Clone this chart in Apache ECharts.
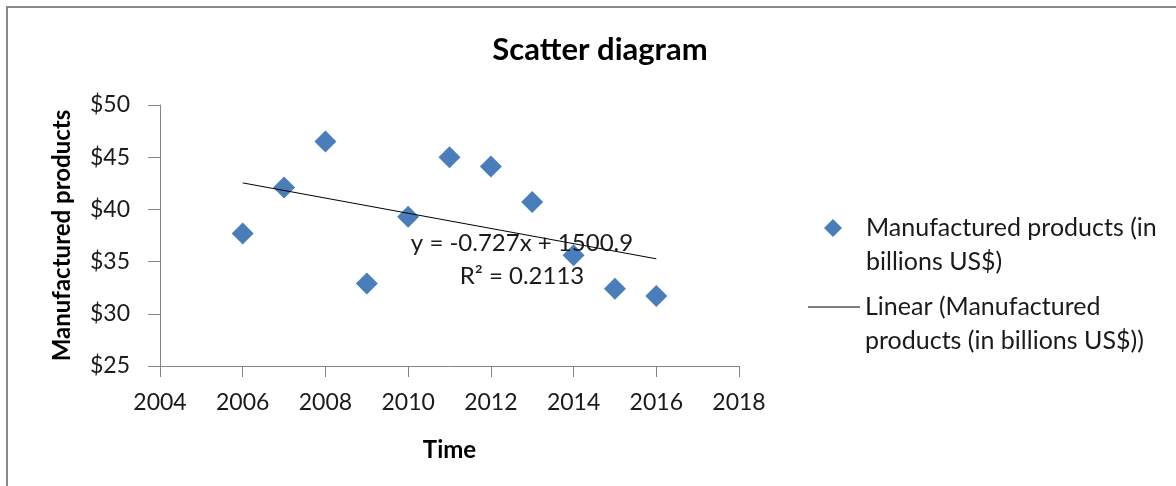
<!DOCTYPE html>
<html>
<head>
<meta charset="utf-8">
<script src="https://cdn.jsdelivr.net/npm/echarts@6/dist/echarts.min.js"></script>
<style>
    html, body { margin: 0; padding: 0; background: #ffffff; }
    #chart { width: 1176px; height: 486px; }
</style>
</head>
<body>
<div id="chart"></div>
<script>
// data
const years = [2006, 2007, 2008, 2009, 2010, 2011, 2012, 2013, 2014, 2015, 2016]
const products = [37.7, 42.1, 46.5, 32.9, 39.3, 45.0, 44.1, 40.7, 35.6, 32.4, 31.7]
// trendline as printed on the chart: y = -0.727x + 1500.9
const trendSlope = -0.727
const trendIntercept = 1500.9
const trendYears = [2006, 2016]
const xTicks = [2004, 2018, 2]
const yTicks = [25, 50, 5]

const scatterName = 'Manufactured products (in billions US$)'
const trendName = 'Linear (Manufactured products (in billions US$))'

const font = 'Lato'
const textColor = '#1a1a1a'
const axisColor = '#868686'

const points = years.map((y, i) => [y, products[i]])
const trend = trendYears.map(y => [y, trendSlope * y + trendIntercept])

const chart = echarts.init(document.getElementById('chart'))

const nameStyle = {
    fontFamily: font,
    fontWeight: 'bold',
    fontSize: 24,
    color: '#000000'
}

// a blank first line keeps the icon level with the first line of the text
const option = {
    animation: false,
    backgroundColor: '#ffffff',
    title: {
        text: 'Scatter diagram',
        left: 595,
        top: 29,
        textAlign: 'center',
        textStyle: {
            fontFamily: font,
            fontWeight: 'bold',
            fontSize: 31,
            color: '#000000'
        }
    },
    grid: {
        left: 160,
        right: 437,
        top: 105,
        bottom: 120,
        outerBoundsMode: 'none'
    },
    legend: [{
        orient: 'vertical',
        left: 824,
        top: 177,
        padding: 0,
        itemWidth: 18,
        itemHeight: 18,
        data: [{ name: scatterName, icon: 'diamond' }],
        formatter: () => ' \nManufactured products (in\nbillions US$)',
        textStyle: {
            color: textColor,
            fontFamily: font,
            fontSize: 25,
            lineHeight: 34,
            padding: [0, 0, 0, 19]
        }
    }, {
        orient: 'vertical',
        left: 808,
        top: 256,
        padding: 0,
        itemWidth: 52,
        itemHeight: 1,
        data: [{ name: trendName, icon: 'rect' }],
        formatter: () => ' \nLinear (Manufactured\nproducts (in billions US$))',
        textStyle: {
            color: textColor,
            fontFamily: font,
            fontSize: 25,
            lineHeight: 34
        }
    }],
    xAxis: {
        type: 'value',
        min: xTicks[0],
        max: xTicks[1],
        interval: xTicks[2],
        name: 'Time',
        nameLocation: 'middle',
        nameGap: 72,
        nameTextStyle: nameStyle,
        splitLine: { show: false },
        axisLine: { show: true, lineStyle: { color: axisColor, width: 1 } },
        axisTick: { show: true, length: 11, lineStyle: { color: axisColor } },
        axisLabel: {
            margin: 25,
            fontFamily: font,
            fontSize: 23,
            color: textColor,
            formatter: v => String(v)
        }
    },
    yAxis: {
        type: 'value',
        min: yTicks[0],
        max: yTicks[1],
        interval: yTicks[2],
        name: 'Manufactured products',
        nameLocation: 'middle',
        nameGap: 86,
        nameRotate: 90,
        nameTextStyle: nameStyle,
        splitLine: { show: false },
        axisLine: { show: true, lineStyle: { color: axisColor, width: 1 } },
        axisTick: { show: true, length: 12, lineStyle: { color: axisColor } },
        axisLabel: {
            margin: 30,
            fontFamily: font,
            fontSize: 23,
            color: textColor,
            formatter: v => '$' + v
        }
    },
    series: [{
        name: scatterName,
        type: 'scatter',
        symbol: 'diamond',
        symbolSize: 22,
        itemStyle: { color: '#4a7ebb', opacity: 1 },
        data: points,
        z: 3
    }, {
        name: trendName,
        type: 'line',
        symbol: 'none',
        lineStyle: { color: '#000000', width: 1 },
        itemStyle: { color: '#000000' },
        data: trend,
        z: 4
    }],
    graphic: [{
        type: 'rect',
        shape: { x: 7, y: 7, width: 1400, height: 700 },
        style: { fill: 'none', stroke: '#8a8a8a', lineWidth: 2 },
        silent: true
    }, {
        type: 'text',
        x: 522,
        y: 260,
        z: 10,
        style: {
            text: 'y = -0.727x + 1500.9\nR² = 0.2113',
            fontFamily: font,
            fontSize: 24,
            lineHeight: 33,
            fill: textColor,
            align: 'center',
            verticalAlign: 'middle'
        }
    }]
}

chart.setOption(option)
</script>
</body>
</html>
